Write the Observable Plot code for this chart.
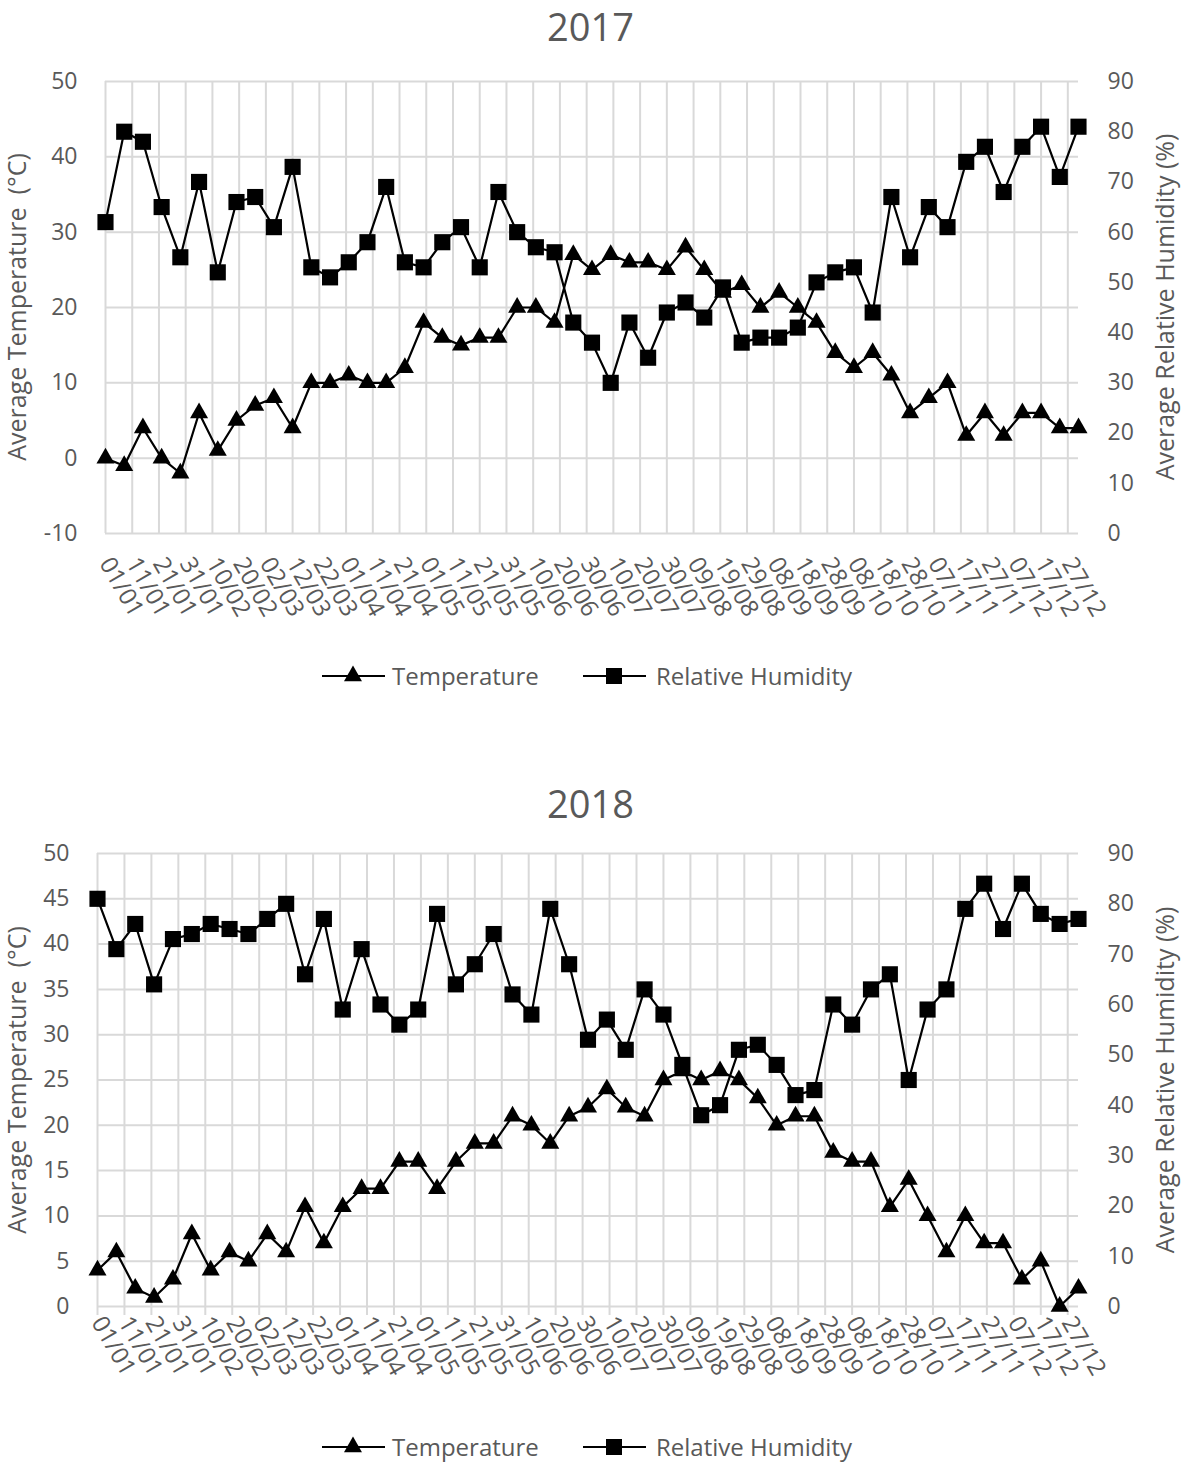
<!DOCTYPE html>
<html>
<head>
<meta charset="utf-8">
<script src="https://cdn.jsdelivr.net/npm/d3@7"></script>
<script src="https://cdn.jsdelivr.net/npm/@observablehq/plot@0.6"></script>
<style>
  body { margin: 0; background: #fff; }
  #root { position: relative; width: 1181px; height: 1463px; overflow: hidden; font-family: "Open Sans", sans-serif; color: #595959; }
  .abs { position: absolute; }
  .title { font-size: 38px; line-height: 38px; width: 1181px; text-align: center; left: 0; }
  .axtitle { font-size: 25px; white-space: pre; transform: translate(-50%, -50%) rotate(-90deg); line-height: 24px; }
  .legtext { font-size: 24px; line-height: 30px; white-space: nowrap; }
  svg { overflow: visible; }
</style>
</head>
<body>
<div id="root"></div>
<script>
// ---------- data ----------
const years = ["2017", "2018"];
const seriesNames = ["Temperature", "Relative Humidity"];
const axisTitles = ["Average Temperature  (°C)", "Average Relative Humidity (%)"];
const tickLabels = ["01/01","11/01","21/01","31/01","10/02","20/02","02/03","12/03","22/03","01/04","11/04","21/04",
  "01/05","11/05","21/05","31/05","10/06","20/06","30/06","10/07","20/07","30/07","09/08","19/08","29/08",
  "08/09","18/09","28/09","08/10","18/10","28/10","07/11","17/11","27/11","07/12","17/12","27/12"];

const temp2017 = [0,-1,4,0,-2,6,1,5,7,8,4,10,10,11,10,10,12,18,16,15,16,16,20,20,18,27,25,27,26,26,25,28,25,22,23,20,22,20,18,14,12,14,11,6,8,10,3,6,3,6,6,4,4];
const hum2017  = [62,80,78,65,55,70,52,66,67,61,73,53,51,54,58,69,54,53,58,61,53,68,60,57,56,42,38,30,42,35,44,46,43,49,38,39,39,41,50,52,53,44,67,55,65,61,74,77,68,77,81,71,81];
const temp2018 = [4,6,2,1,3,8,4,6,5,8,6,11,7,11,13,13,16,16,13,16,18,18,21,20,18,21,22,24,22,21,25,26,25,26,25,23,20,21,21,17,16,16,11,14,10,6,10,7,7,3,5,0,2];
const hum2018  = [81,71,76,64,73,74,76,75,74,77,80,66,77,59,71,60,56,59,78,64,68,74,62,58,79,68,53,57,51,63,58,48,38,40,51,52,48,42,43,60,56,63,66,45,59,63,79,84,75,84,78,76,77];

const tempTicks2017 = [-10,0,10,20,30,40,50];
const tempTicks2018 = [0,5,10,15,20,25,30,35,40,45,50];
const humTicks = [0,10,20,30,40,50,60,70,80,90];

// ---------- layout ----------
const root = document.getElementById("root");
const GRID = "#d9d9d9", TXT = "#595959";
const parse = d3.utcParse("%d/%m/%Y");
const plain = d => String(d);

function addDiv(cls, text, style) {
  const d = document.createElement("div");
  d.className = "abs " + cls;
  d.textContent = text;
  Object.assign(d.style, style);
  root.appendChild(d);
  return d;
}

function swatch(symbolType, left, top) {
  const svg = d3.create("svg").attr("width", 64).attr("height", 30)
    .style("position", "absolute").style("left", left + "px").style("top", top + "px");
  svg.append("line").attr("x1", 0).attr("x2", 63).attr("y1", 15).attr("y2", 15)
    .attr("stroke", "black").attr("stroke-width", 2.2);
  const size = symbolType === d3.symbolSquare ? 16 * 16 : 140;
  svg.append("path").attr("d", d3.symbol(symbolType, size)()).attr("transform", "translate(31,15)").attr("fill", "black");
  root.appendChild(svg.node());
}

function panel(cfg) {
  const {year, temp, hum, tDomain, tTicks, top, height, mt, mb, ml, mr, xTickSize, xPad, titleTop, axTitleY, legendTop} = cfg;
  const y0 = Date.UTC(+year, 0, 1);
  const dates = d3.utcDay.range(new Date(y0), new Date(Date.UTC(+year + 1, 0, 1)), 7);
  const tdata = dates.map((d, i) => ({date: d, v: temp[i]}));
  const hdata = dates.map((d, i) => ({date: d, v: hum[i]}));
  const xTicks = tickLabels.map(s => parse(`${s}/${year}`));
  const fmt = d3.utcFormat("%d/%m");
  const common = {
    width: 1181, height, marginTop: mt, marginBottom: mb, marginLeft: ml, marginRight: mr,
    style: {background: "transparent", fontFamily: "Open Sans", overflow: "visible", maxWidth: "none"},
  };

  const p1 = Plot.plot({
    ...common,
    x: {type: "utc", domain: [dates[0], dates[dates.length - 1]]},
    y: {domain: tDomain},
    marks: [
      Plot.gridY(tTicks, {stroke: GRID, strokeOpacity: 1, strokeWidth: 2}),
      Plot.gridX(xTicks, {stroke: GRID, strokeOpacity: 1, strokeWidth: 2}),
      xTickSize > 0 ? Plot.axisX(xTicks, {tickSize: xTickSize, stroke: GRID, strokeWidth: 2, tickFormat: () => "", label: null}) : null,
      Plot.axisX(xTicks, {tickSize: 0, tickPadding: xPad, tickRotate: 60, tickFormat: fmt, fontSize: 24, fill: TXT, label: null}),
      Plot.axisY(tTicks, {anchor: "left", tickSize: 0, tickPadding: 28, fontSize: 23, fill: TXT, label: null, tickFormat: plain}),
      Plot.line(tdata, {x: "date", y: "v", stroke: "black", strokeWidth: 2.2}),
      Plot.dot(tdata, {x: "date", y: "v", symbol: "triangle", fill: "black", r: 6.7})
    ]
  });

  const p2 = Plot.plot({
    ...common,
    x: {type: "utc", domain: [dates[0], dates[dates.length - 1]], axis: null},
    y: {domain: [0, 90]},
    marks: [
      Plot.axisY(humTicks, {anchor: "right", tickSize: 0, tickPadding: 29, fontSize: 23, fill: TXT, label: null, tickFormat: plain}),
      Plot.line(hdata, {x: "date", y: "v", stroke: "black", strokeWidth: 2.2}),
      Plot.dot(hdata, {x: "date", y: "v", symbol: "square", fill: "black", r: 9.1})
    ]
  });

  for (const p of [p1, p2]) {
    const w = document.createElement("div");
    w.className = "abs";
    w.style.left = "0px"; w.style.top = top + "px";
    w.appendChild(p);
    root.appendChild(w);
  }

  addDiv("title", year, {top: titleTop + "px"});
  addDiv("axtitle", axisTitles[0], {left: "16px", top: axTitleY + "px"});
  addDiv("axtitle", axisTitles[1], {left: "1164px", top: axTitleY + "px"});

  swatch(d3.symbolTriangle, 322, legendTop);
  addDiv("legtext", seriesNames[0], {left: "392px", top: legendTop + "px"});
  swatch(d3.symbolSquare, 583, legendTop);
  addDiv("legtext", seriesNames[1], {left: "656px", top: legendTop + "px"});
}

panel({year: years[0], temp: temp2017, hum: hum2017, tDomain: [-10, 50], tTicks: tempTicks2017,
  top: 40, height: 600, mt: 41, mb: 107, ml: 105, mr: 103, xTickSize: 0, xPad: 26,
  titleTop: 7, axTitleY: 307, legendTop: 661});

panel({year: years[1], temp: temp2018, hum: hum2018, tDomain: [0, 50], tTicks: tempTicks2018,
  top: 830, height: 590, mt: 23, mb: 114, ml: 97, mr: 103, xTickSize: 9, xPad: 12,
  titleTop: 784, axTitleY: 1080, legendTop: 1432});
</script>
</body>
</html>
